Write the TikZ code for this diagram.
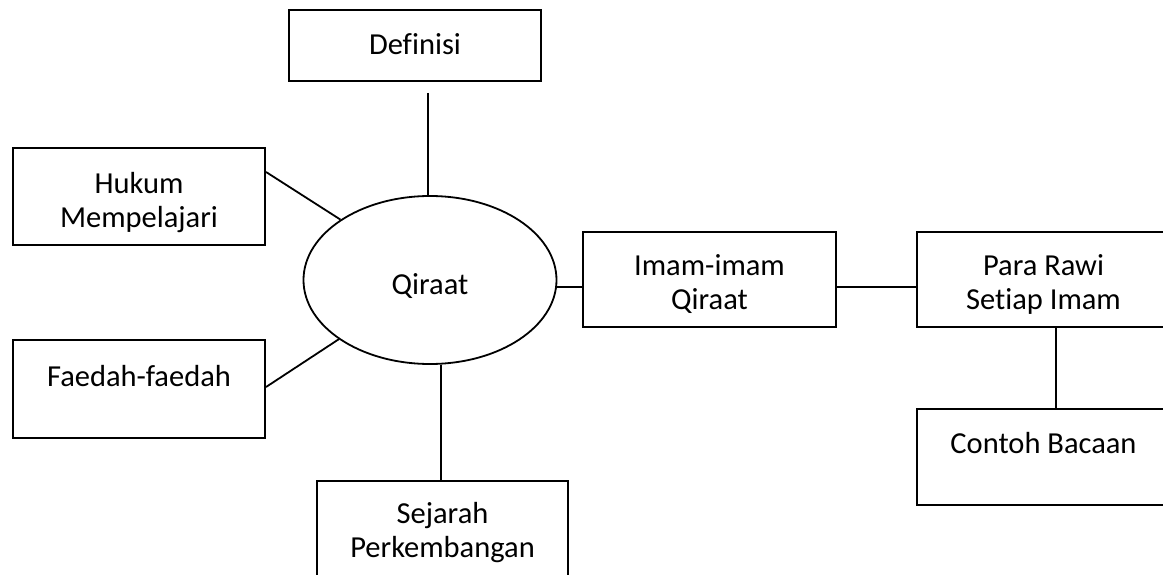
\documentclass[tikz,border=0pt]{standalone}
\usepackage{fontspec}
\setmainfont{Carlito}[Ligatures=CommonOff]
\usetikzlibrary{shapes.geometric}
\begin{document}
\begin{tikzpicture}[x=1pt,y=-1pt,
  every node/.style={font=\fontsize{30.5}{34}\selectfont, inner sep=0pt, align=center},
  box/.style={draw, line width=2.1pt, rectangle},
  oval/.style={draw, line width=1.8pt, ellipse},
  conn/.style={line width=1.8pt}]
\useasboundingbox (0,0) rectangle (1163,575);
\clip (0,0) rectangle (1163,575);
\node[box, minimum width=252pt, minimum height=71pt,
  label={[yshift=1pt]center:Definisi}] (def) at (415,45.5) {};
\node[box, minimum width=252pt, minimum height=97pt,
  label={[yshift=-6pt]center:Hukum\\Mempelajari}] (hukum) at (139,196.5) {};
\node[box, minimum width=252pt, minimum height=98pt,
  label={[yshift=13pt]center:Faedah-faedah}] (faedah) at (139,389) {};
\node[oval, minimum width=253pt, minimum height=168pt,
  label={[yshift=-6pt]center:Qiraat}] (qiraat) at (430,280) {};
\node[box, minimum width=253pt, minimum height=95pt,
  label={[yshift=-5pt]center:Imam-imam\\Qiraat}] (imam) at (709.5,279.5) {};
\node[box, minimum width=253pt, minimum height=95pt,
  label={[yshift=-5pt]center:Para Rawi\\Setiap Imam}] (rawi) at (1043.5,279.5) {};
\node[box, minimum width=253pt, minimum height=96pt,
  label={[yshift=14pt]center:Contoh Bacaan}] (contoh) at (1043.5,457) {};
\node[box, minimum width=251pt, minimum height=95pt,
  label={[yshift=-4pt]center:Sejarah\\Perkembangan}] (sejarah) at (442.5,528.5) {};
\coordinate (d1) at (428,93);
\draw[conn] (d1) -- (d1 |- qiraat.north);
\draw[conn] (hukum.east |- 0,172) -- (qiraat.146.5);
\draw[conn] (faedah.east |- 0,387) -- (qiraat.213.7);
\draw[conn] (qiraat.-3) -- (qiraat.-3 -| imam.west);
\draw[conn] (imam.east |- qiraat.-3) -- (rawi.west |- qiraat.-3);
\draw[conn] ([xshift=12.5pt]rawi.south) -- ([xshift=12.5pt]contoh.north);
\draw[conn] ([xshift=11pt]qiraat.south) -- ([xshift=-1.5pt]sejarah.north);
\end{tikzpicture}
\end{document}
